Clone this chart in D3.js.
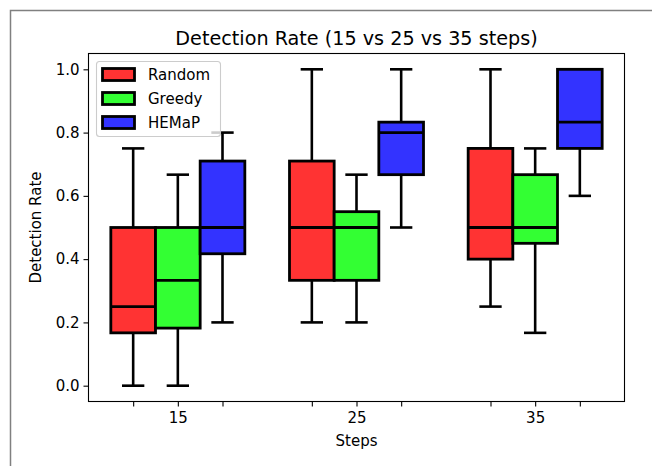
<!DOCTYPE html>
<html>
<head>
<meta charset="utf-8">
<script src="https://cdn.jsdelivr.net/npm/d3@7"></script>
<style>
    body { margin: 0; background: #fff; }
    text { font-family: "DejaVu Sans", sans-serif; fill: #000; }
</style>
</head>
<body>
<svg width="652" height="466"></svg>
<script>
let steps = ["15", "25", "35"];
let methods = ["Random", "Greedy", "HEMaP"];
let colors = ["#ff3333", "#33ff33", "#3333ff"];
// [whisker low, q1, median, q3, whisker high] per step
let randomStats = [
    [0.0, 0.167, 0.25, 0.5, 0.75],
    [0.2, 0.333, 0.5, 0.71, 1.0],
    [0.25, 0.4, 0.5, 0.75, 1.0]
];
let greedyStats = [
    [0.0, 0.182, 0.333, 0.5, 0.667],
    [0.2, 0.333, 0.5, 0.55, 0.667],
    [0.167, 0.45, 0.5, 0.667, 0.75]
];
let hemapStats = [
    [0.2, 0.417, 0.5, 0.71, 0.8],
    [0.5, 0.667, 0.8, 0.833, 1.0],
    [0.6, 0.75, 0.833, 1.0, 1.0]
];
let yTicks = [0.0, 0.2, 0.4, 0.6, 0.8, 1.0];

let allStats = [randomStats, greedyStats, hemapStats];
let offsets = [-0.25, 0, 0.25];
let boxW = 0.25;

let svg = d3.select("svg");
let axLeft = 88.5, axRight = 624.5, axTop = 53.5, axBottom = 401.5;

// figure frame
svg.append("rect")
    .attr("x", 10.5).attr("y", 10.5)
    .attr("width", 700).attr("height", 500)
    .attr("fill", "none")
    .attr("stroke", "#808080")
    .attr("stroke-width", 1.5);

let x = d3.scaleLinear().domain([0.5, 3.5]).range([axLeft, axRight]);
let y = d3.scaleLinear().domain([-0.05, 1.05]).range([axBottom, axTop]);

let boxes = [];
for (let m in allStats) {
    for (let s in allStats[m]) {
        let st = allStats[m][s];
        boxes.push({
            pos: +s + 1 + offsets[m],
            color: colors[m],
            lo: st[0], q1: st[1], med: st[2], q3: st[3], hi: st[4]
        });
    }
}

let xTickVals = [];
steps.forEach((d, i) => offsets.forEach(o => xTickVals.push(i + 1 + o)));

let xAxis = d3.axisBottom(x)
    .tickValues(xTickVals)
    .tickSize(5)
    .tickPadding(6)
    .tickFormat(d => {
        let i = Math.round(d - 1);
        return Math.abs(d - (i + 1)) < 1e-6 ? steps[i] : "";
    });
let yAxis = d3.axisLeft(y)
    .tickValues(yTicks)
    .tickSize(5)
    .tickPadding(4)
    .tickFormat(d3.format(".1f"));

let plot = svg.append("g");

// whiskers
let wg = plot.append("g").attr("stroke", "#000").attr("stroke-width", 2.6);
boxes.forEach(b => {
    let cx = x(b.pos);
    let cw = (x(b.pos + boxW / 4) - x(b.pos - boxW / 4)) / 2;
    wg.append("line").attr("x1", cx).attr("x2", cx).attr("y1", y(b.q3)).attr("y2", y(b.hi));
    wg.append("line").attr("x1", cx).attr("x2", cx).attr("y1", y(b.q1)).attr("y2", y(b.lo));
    wg.append("line").attr("x1", cx - cw).attr("x2", cx + cw).attr("y1", y(b.hi)).attr("y2", y(b.hi));
    wg.append("line").attr("x1", cx - cw).attr("x2", cx + cw).attr("y1", y(b.lo)).attr("y2", y(b.lo));
});

// boxes
plot.append("g")
    .selectAll("rect")
    .data(boxes)
    .enter().append("rect")
    .attr("x", d => x(d.pos - boxW / 2))
    .attr("width", d => x(d.pos + boxW / 2) - x(d.pos - boxW / 2))
    .attr("y", d => y(d.q3))
    .attr("height", d => y(d.q1) - y(d.q3))
    .attr("fill", d => d.color)
    .attr("stroke", "#000")
    .attr("stroke-width", 2.8);

// medians
plot.append("g")
    .selectAll("line")
    .data(boxes)
    .enter().append("line")
    .attr("x1", d => x(d.pos - boxW / 2))
    .attr("x2", d => x(d.pos + boxW / 2))
    .attr("y1", d => y(d.med))
    .attr("y2", d => y(d.med))
    .attr("stroke", "#000")
    .attr("stroke-width", 2.8);

// spines
svg.append("rect")
    .attr("x", axLeft).attr("y", axTop)
    .attr("width", axRight - axLeft).attr("height", axBottom - axTop)
    .attr("fill", "none")
    .attr("stroke", "#000")
    .attr("stroke-width", 1.1);

let gx = svg.append("g")
    .attr("transform", `translate(0,${axBottom})`)
    .call(xAxis);
let gy = svg.append("g")
    .attr("transform", `translate(${axLeft},0)`)
    .call(yAxis);
[gx, gy].forEach(g => {
    g.select(".domain").remove();
    g.selectAll(".tick line").attr("stroke", "#000").attr("stroke-width", 1.1);
    g.selectAll(".tick text").style("font-size", "15px").style("font-family", "DejaVu Sans");
});

// title and labels
svg.append("text")
    .attr("x", (axLeft + axRight) / 2).attr("y", 45)
    .attr("text-anchor", "middle")
    .style("font-size", "19.2px")
    .text("Detection Rate (15 vs 25 vs 35 steps)");
svg.append("text")
    .attr("x", (axLeft + axRight) / 2).attr("y", 446)
    .attr("text-anchor", "middle")
    .style("font-size", "15px")
    .text("Steps");
svg.append("text")
    .attr("transform", `translate(41,${(axTop + axBottom) / 2}) rotate(-90)`)
    .attr("text-anchor", "middle")
    .style("font-size", "15px")
    .text("Detection Rate");

// legend
let lg = svg.append("g");
lg.append("rect")
    .attr("x", 96.5).attr("y", 61.5)
    .attr("width", 124).attr("height", 75)
    .attr("rx", 3)
    .attr("fill", "#fff").attr("fill-opacity", 0.8)
    .attr("stroke", "#cccccc").attr("stroke-width", 1.1);
methods.forEach((m, i) => {
    let cy = 74.5 + i * 24;
    lg.append("rect")
        .attr("x", 102.5).attr("y", cy - 6)
        .attr("width", 32).attr("height", 12)
        .attr("fill", colors[i])
        .attr("stroke", "#000").attr("stroke-width", 2.8);
    lg.append("text")
        .attr("x", 148).attr("y", cy)
        .attr("dy", "0.36em")
        .style("font-size", "15px")
        .text(m);
});
</script>
</body>
</html>
